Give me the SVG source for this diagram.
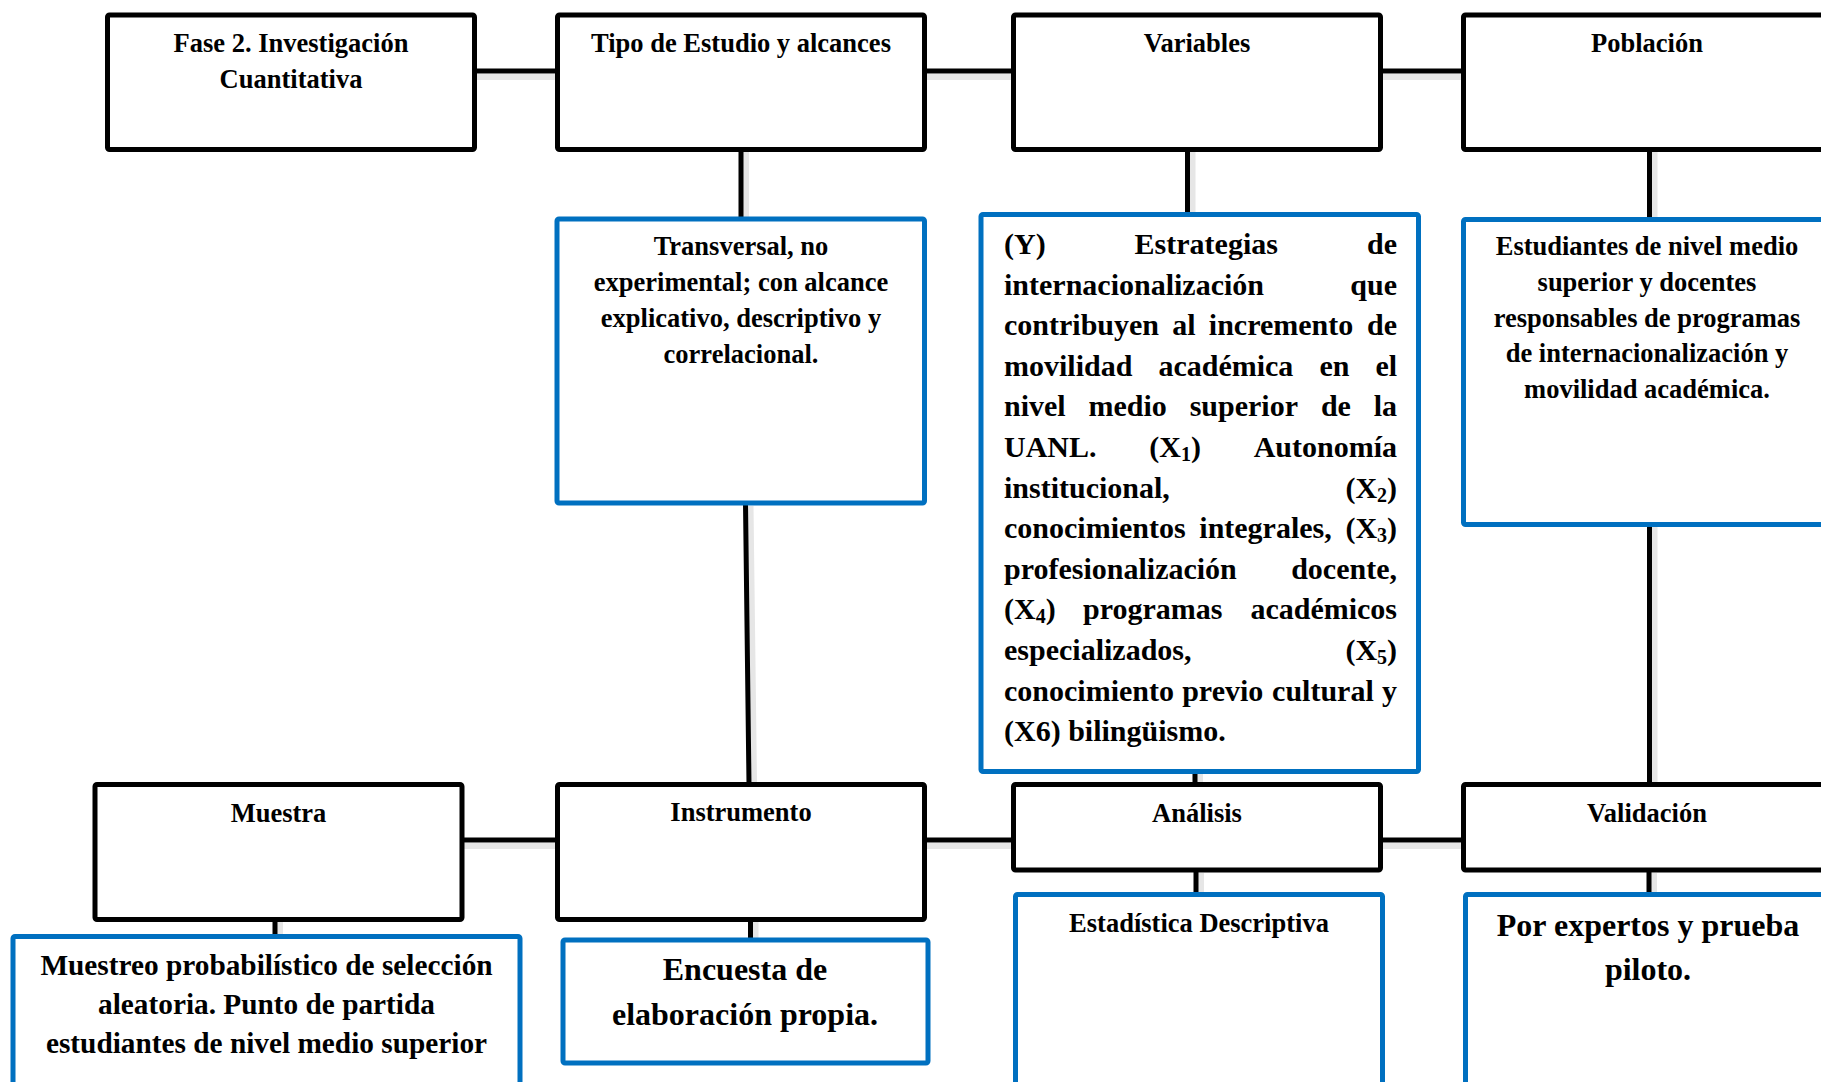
<svg xmlns="http://www.w3.org/2000/svg" width="1821" height="1082" viewBox="0 0 1821 1082">
<style>
.box{fill:#fff;stroke:#000;stroke-width:5;stroke-linejoin:round}
.bbox{fill:#fff;stroke:#0070C0;stroke-width:5;stroke-linejoin:round}
.ln{stroke:#000;stroke-width:5;fill:none}
.sh{stroke:#e6e6e6;stroke-width:6;fill:none}
text{font-family:"Liberation Serif","Times New Roman",serif;font-weight:bold;fill:#000}
.t{font-size:26.5px;text-anchor:middle}
.v{font-size:30px}
.big{font-size:32px;text-anchor:middle}
.m{font-size:29.3px;text-anchor:middle}
.sub{font-size:20px}
</style>
<rect width="1821" height="1082" fill="#fff"/>
<g id="connectors">
  <g id="shadows">
    <path class="sh" d="M477 77H557M927 77H1013M1383 77H1463"/>
    <path class="sh" d="M464 846H557M927 846H1013M1383 846H1463"/>
    <path class="sh" d="M746 152V217M750.5 506L754 782M1192.5 152V212M1200 774V782M1654.5 152V217M1654.5 527V782"/>
    <path class="sh" d="M280 922V934M755.5 922V938M1201 873V892M1654 873V892"/>
  </g>
  <path class="ln" d="M474.5 71H557.5M924.5 71H1013.5M1380.5 71H1463.5"/>
  <path class="ln" d="M462 840H557.5M924.5 840H1013.5M1380.5 840H1463.5"/>
  <path class="ln" d="M741 149.5V219M745.5 503L749 784.5M1187.5 149.5V214.5M1195 771.5V784.5M1649.5 149.5V219.5M1649.5 524.5V784.5"/>
  <path class="ln" d="M275 919.5V936.5M750.5 919.5V940M1196 870V894.5M1649 870V894.5"/>
</g>
<g id="fase">
  <rect class="box" x="107.5" y="15" width="367" height="134.5" rx="2"/>
  <text class="t" x="291" y="52">Fase 2. Investigación</text>
  <text class="t" x="291" y="88">Cuantitativa</text>
</g>
<g id="tipo">
  <rect class="box" x="557.5" y="15" width="367" height="134.5" rx="2"/>
  <text class="t" x="741" y="52">Tipo de Estudio y alcances</text>
</g>
<g id="variables">
  <rect class="box" x="1013.5" y="15" width="367" height="134.5" rx="2"/>
  <text class="t" x="1197" y="52">Variables</text>
</g>
<g id="poblacion">
  <rect class="box" x="1463.5" y="15" width="367" height="134.5" rx="2"/>
  <text class="t" x="1647" y="52">Población</text>
</g>
<g id="transversal">
  <rect class="bbox" x="557" y="219" width="367.5" height="284" rx="2"/>
  <text class="t" x="741" y="255">Transversal, no</text>
  <text class="t" x="741" y="291">experimental; con alcance</text>
  <text class="t" x="741" y="327">explicativo, descriptivo y</text>
  <text class="t" x="741" y="362.5">correlacional.</text>
</g>
<g id="variables-detalle">
  <rect class="bbox" x="981" y="214.5" width="437.5" height="557" rx="2"/>
  <text class="v" y="254"><tspan x="1004">(Y)</tspan><tspan x="1134.6">Estrategias</tspan><tspan x="1367">de</tspan></text>
  <text class="v" y="294.6"><tspan x="1004">internacionalización</tspan><tspan x="1350.3">que</tspan></text>
  <text class="v" y="335.2"><tspan x="1004">contribuyen</tspan><tspan x="1172.2">al</tspan><tspan x="1208.8">incremento</tspan><tspan x="1367">de</tspan></text>
  <text class="v" y="375.8"><tspan x="1004">movilidad</tspan><tspan x="1158.4">académica</tspan><tspan x="1319.4">en</tspan><tspan x="1375.4">el</tspan></text>
  <text class="v" y="416.4"><tspan x="1004">nivel</tspan><tspan x="1088.5">medio</tspan><tspan x="1189.7">superior</tspan><tspan x="1320.9">de</tspan><tspan x="1373.7">la</tspan></text>
  <text class="v" y="457"><tspan x="1004">UANL.</tspan><tspan x="1149.3">(X</tspan><tspan class="sub" dy="4">1</tspan><tspan dy="-4">)</tspan><tspan x="1253.7">Autonomía</tspan></text>
  <text class="v" y="497.6"><tspan x="1004">institucional,</tspan><tspan x="1345.4">(X</tspan><tspan class="sub" dy="4">2</tspan><tspan dy="-4">)</tspan></text>
  <text class="v" y="538.2"><tspan x="1004">conocimientos</tspan><tspan x="1199.3">integrales,</tspan><tspan x="1345.4">(X</tspan><tspan class="sub" dy="4">3</tspan><tspan dy="-4">)</tspan></text>
  <text class="v" y="578.8"><tspan x="1004">profesionalización</tspan><tspan x="1291.2">docente,</tspan></text>
  <text class="v" y="619.4"><tspan x="1004">(X</tspan><tspan class="sub" dy="4">4</tspan><tspan dy="-4">)</tspan><tspan x="1083">programas</tspan><tspan x="1250.4">académicos</tspan></text>
  <text class="v" y="660"><tspan x="1004">especializados,</tspan><tspan x="1345.4">(X</tspan><tspan class="sub" dy="4">5</tspan><tspan dy="-4">)</tspan></text>
  <text class="v" y="700.6"><tspan x="1004">conocimiento</tspan><tspan x="1182.2">previo</tspan><tspan x="1272.1">cultural</tspan><tspan x="1382">y</tspan></text>
  <text class="v" x="1004" y="741.2">(X6) bilingüismo.</text>
</g>
<g id="poblacion-detalle">
  <rect class="bbox" x="1463.5" y="219.5" width="367" height="305" rx="2"/>
  <text class="t" x="1647" y="255">Estudiantes de nivel medio</text>
  <text class="t" x="1647" y="291">superior y docentes</text>
  <text class="t" x="1647" y="327">responsables de programas</text>
  <text class="t" x="1647" y="362">de internacionalización y</text>
  <text class="t" x="1647" y="397.5">movilidad académica.</text>
</g>
<g id="muestra">
  <rect class="box" x="95" y="784.5" width="367" height="135" rx="2"/>
  <text class="t" x="278.5" y="821.5">Muestra</text>
</g>
<g id="instrumento">
  <rect class="box" x="557.5" y="784.5" width="367" height="135" rx="2"/>
  <text class="t" x="741" y="821">Instrumento</text>
</g>
<g id="analisis">
  <rect class="box" x="1013.5" y="784.5" width="367" height="85.5" rx="2"/>
  <text class="t" x="1197" y="821.5">Análisis</text>
</g>
<g id="validacion">
  <rect class="box" x="1463.5" y="784.5" width="367" height="85.5" rx="2"/>
  <text class="t" x="1647" y="821.5">Validación</text>
</g>
<g id="muestreo">
  <rect class="bbox" x="13" y="936.5" width="507" height="170" rx="2"/>
  <text class="m" x="266.5" y="974.5">Muestreo probabilístico de selección</text>
  <text class="m" x="266.5" y="1014">aleatoria. Punto de partida</text>
  <text class="m" x="266.5" y="1053">estudiantes de nivel medio superior</text>
</g>
<g id="encuesta">
  <rect class="bbox" x="563" y="940" width="365" height="123" rx="2"/>
  <text class="big" x="745" y="980">Encuesta de</text>
  <text class="big" x="745" y="1025">elaboración propia.</text>
</g>
<g id="estadistica">
  <rect class="bbox" x="1015.5" y="894.5" width="367" height="210" rx="2"/>
  <text class="t" x="1199" y="932">Estadística Descriptiva</text>
</g>
<g id="expertos">
  <rect class="bbox" x="1465.5" y="894.5" width="367" height="210" rx="2"/>
  <text class="big" x="1648" y="936">Por expertos y prueba</text>
  <text class="big" x="1648" y="979.5">piloto.</text>
</g>
</svg>
